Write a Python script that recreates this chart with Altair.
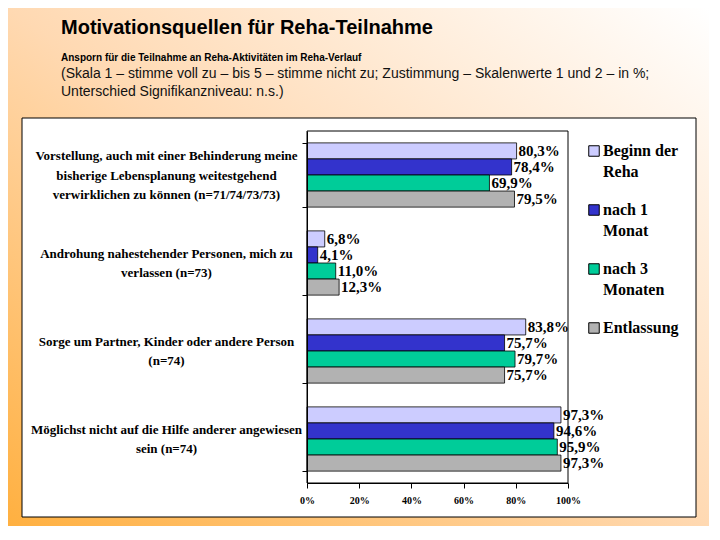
import altair as alt
import pandas as pd

categories = [
    "Vorstellung, auch mit einer Behinderung meine\nbisherige Lebensplanung weitestgehend\nverwirklichen zu können (n=71/74/73/73)",
    "Androhung nahestehender Personen, mich zu\nverlassen (n=73)",
    "Sorge um Partner, Kinder oder andere Person\n(n=74)",
    "Möglichst nicht auf die Hilfe anderer angewiesen\nsein (n=74)",
]
series = ["Beginn der\nReha", "nach 1\nMonat", "nach 3\nMonaten", "Entlassung"]
beginn = [80.3, 6.8, 83.8, 97.3]
monat1 = [78.4, 4.1, 75.7, 94.6]
monat3 = [69.9, 11.0, 79.7, 95.9]
entlassung = [79.5, 12.3, 75.7, 97.3]
colors = ["#CCCCFF", "#3333CC", "#00CC99", "#B2B2B2"]
x_ticks = [0, 20, 40, 60, 80, 100]

title_text = "Motivationsquellen für Reha-Teilnahme"
sub_bold = "Ansporn für die Teilnahme an Reha-Aktivitäten im Reha-Verlauf"
sub_line2 = "(Skala 1 – stimme voll zu – bis 5 – stimme nicht zu; Zustimmung – Skalenwerte 1 und 2 – in %;"
sub_line3 = "Unterschied Signifikanzniveau: n.s.)"

rows = []
for s, vals in zip(series, [beginn, monat1, monat3, entlassung]):
    for c, v in zip(categories, vals):
        rows.append({"cat": c, "series": s, "value": v})
df = pd.DataFrame(rows)

W, H = 261, 352
PL, PT, PR, PB = 299, 123, 141, 43

SERIF = "Liberation Serif"
SANS = "Liberation Sans"

one = pd.DataFrame({"d": [0]})

bg = alt.Chart(one).mark_rect(
    color=alt.Gradient(
        gradient="linear",
        stops=[
            alt.GradientStop(color="#FFB040", offset=0),
            alt.GradientStop(color="#FFD9B2", offset=0.5),
            alt.GradientStop(color="#FFFFFF", offset=1),
        ],
        x1=0, y1=1, x2=1, y2=0,
    )
).encode(x=alt.value(-PL), x2=alt.value(W + PR), y=alt.value(-PT), y2=alt.value(H + PB))

panel = alt.Chart(one).mark_rect(fill="white", stroke="black", strokeWidth=1).encode(
    x=alt.value(-285), x2=alt.value(389), y=alt.value(-13), y2=alt.value(386)
)

frame = alt.Chart(one).mark_rect(fillOpacity=0, stroke="black", strokeWidth=1).encode(
    x=alt.value(0), x2=alt.value(W), y=alt.value(0), y2=alt.value(H)
)

LH = 19.5

y_enc = alt.Y(
    "cat:N",
    sort=categories,
    scale=alt.Scale(domain=categories, paddingInner=0.27, paddingOuter=0.135),
    axis=alt.Axis(
        title=None,
        tickBand="extent",
        tickSize=5,
        tickColor="black",
        domainColor="black",
        labelAlign="center",
        labelBaseline="middle",
        labelPadding=136,
        labelOffset={
            "condition": {"test": "length(split(datum.label, '\\n')) > 2", "value": -LH},
            "value": -LH / 2,
        },
        labelLimit=400,
        labelFont=SERIF,
        labelFontWeight="bold",
        labelFontSize=13,
        labelColor="black",
        labelLineHeight=LH,
        labelExpr="split(datum.label, '\\n')",
        grid=False,
        zindex=1,
    ),
)
yoff_enc = alt.YOffset("series:N", sort=series, scale=alt.Scale(domain=series, paddingInner=0, paddingOuter=0))
x_enc = alt.X(
    "value:Q",
    scale=alt.Scale(domain=[0, 100], nice=False),
    axis=alt.Axis(
        title=None,
        values=x_ticks,
        tickSize=5,
        tickColor="black",
        domainColor="black",
        labelExpr="datum.value + '%'",
        labelFlush=False,
        labelFont=SERIF,
        labelFontWeight="bold",
        labelFontSize=10,
        labelColor="black",
        labelPadding=7,
        grid=False,
        zindex=1,
    ),
)

bars = alt.Chart(df).mark_bar(stroke="black", strokeWidth=0.8).encode(
    y=y_enc,
    yOffset=yoff_enc,
    x=x_enc,
    color=alt.Color(
        "series:N",
        sort=series,
        scale=alt.Scale(domain=series, range=colors),
        legend=alt.Legend(
            title=None,
            orient="none",
            legendX=279,
            legendY=12,
            padding=0,
            symbolType="square",
            symbolSize=110,
            symbolStrokeColor="black",
            symbolStrokeWidth=1,
            labelFont=SERIF,
            labelFontWeight="bold",
            labelFontSize=16,
            labelColor="black",
            labelOffset=1,
            labelLimit=200,
            labelBaseline="middle",
            labelExpr="split(datum.label, '\\n')",
            rowPadding=22,
        ),
    ),
)

labels = alt.Chart(df).transform_calculate(
    label="replace(format(datum.value, '.1f'), '.', ',') + '%'"
).mark_text(
    align="left", baseline="middle", dx=2, font=SERIF, fontWeight="bold", fontSize=15, color="black"
).encode(y=y_enc, yOffset=yoff_enc, x=x_enc, text="label:N")

t_title = alt.Chart(one).mark_text(
    align="left", baseline="alphabetic", font=SANS, fontWeight="bold", fontSize=20, color="black"
).encode(x=alt.value(-246), y=alt.value(-97), text=alt.value(title_text))
t_sub1 = alt.Chart(one).mark_text(
    align="left", baseline="alphabetic", font=SANS, fontWeight="bold", fontSize=10, color="black"
).encode(x=alt.value(-246), y=alt.value(-70), text=alt.value(sub_bold))
t_sub2 = alt.Chart(one).mark_text(
    align="left", baseline="alphabetic", font=SANS, fontSize=14, color="#111111"
).encode(x=alt.value(-246), y=alt.value(-53), text=alt.value(sub_line2))
t_sub3 = alt.Chart(one).mark_text(
    align="left", baseline="alphabetic", font=SANS, fontSize=14, color="#111111"
).encode(x=alt.value(-246), y=alt.value(-35), text=alt.value(sub_line3))

chart = alt.layer(bg, panel, frame, bars, labels, t_title, t_sub1, t_sub2, t_sub3).properties(
    width=W,
    height=H,
    padding={"left": PL, "top": PT, "right": PR, "bottom": PB},
    autosize=alt.AutoSizeParams(type="none"),
    background="white",
).configure(style={"guide-label": {"lineHeight": 21}}).configure_view(strokeWidth=0)

chart.save("out.html", embed_options={"renderer": "svg", "actions": False})
